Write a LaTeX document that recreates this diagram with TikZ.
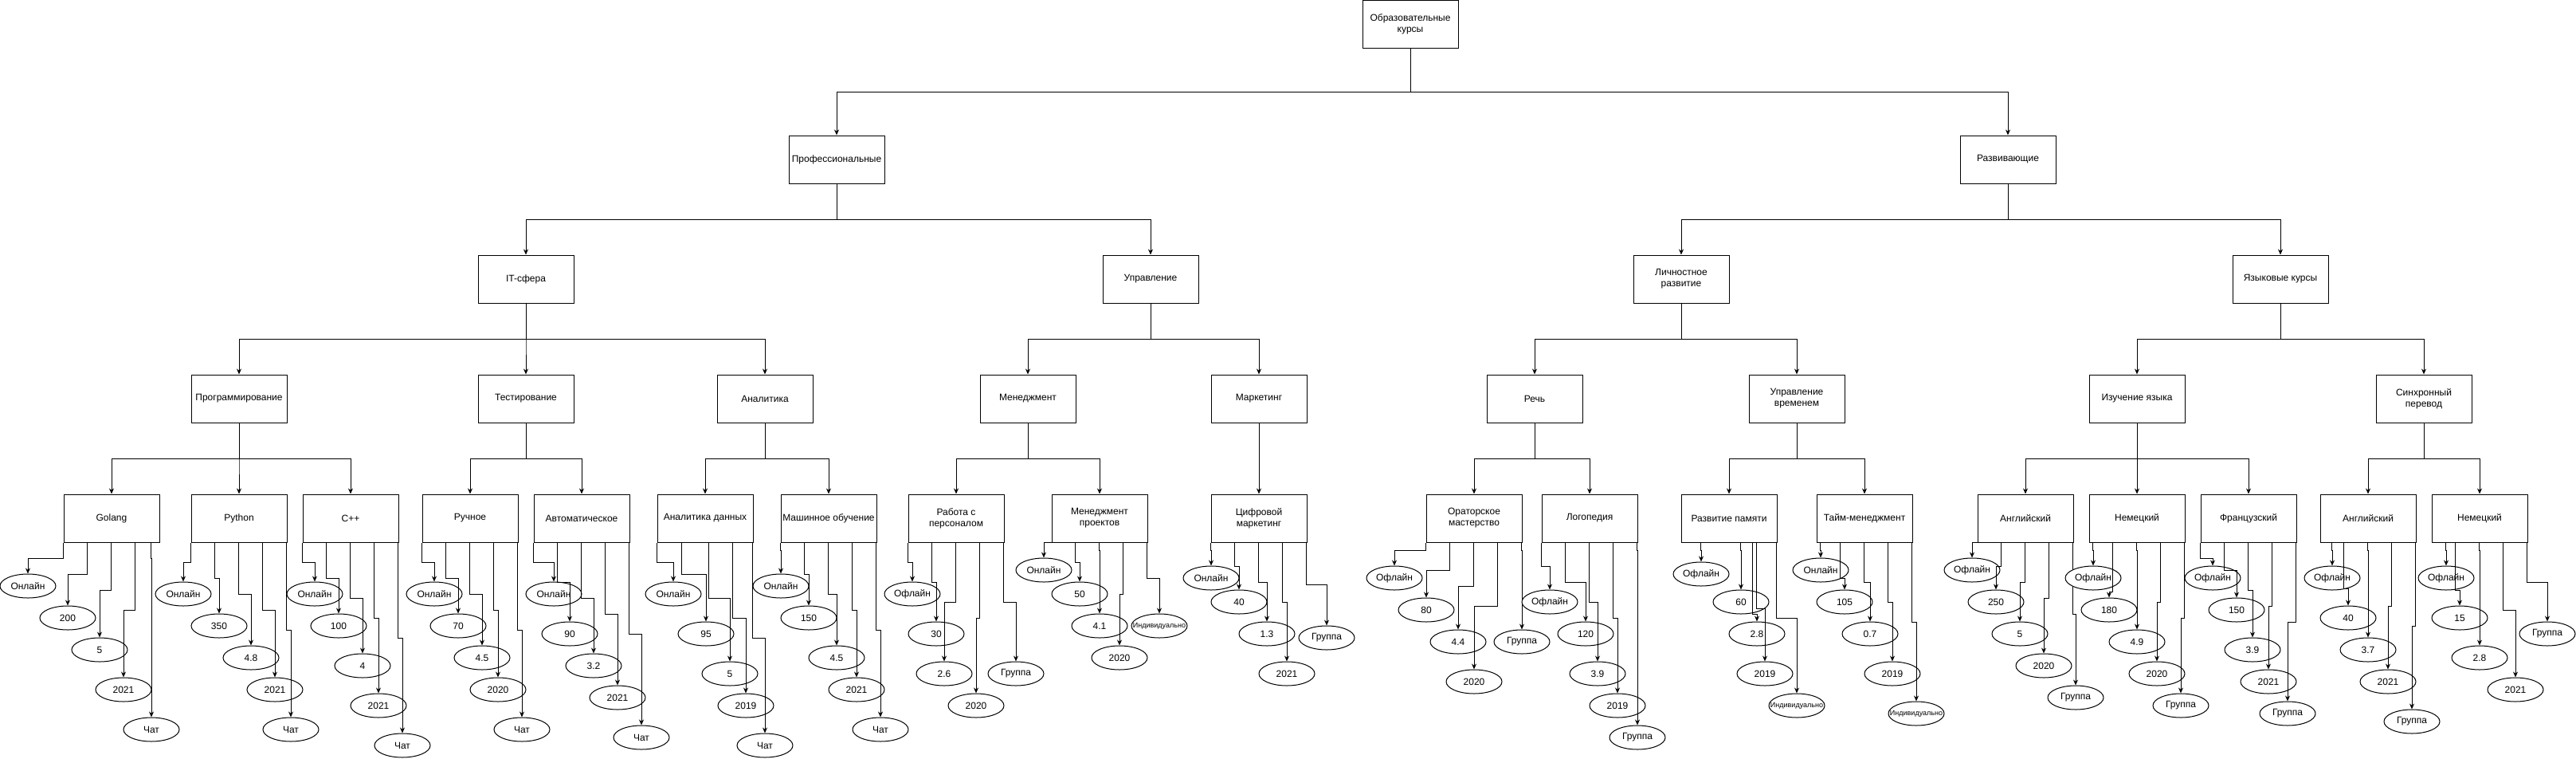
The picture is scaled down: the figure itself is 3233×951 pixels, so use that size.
\documentclass[tikz,border=0pt]{standalone}
\usepackage{fontspec}
\setmainfont{Liberation Sans}
\usetikzlibrary{arrows.meta, shapes.geometric}
\newcommand{\indiv}{\makebox[0pt]{\fontsize{9}{10}\selectfont Индивидуально}}

\begin{document}
\begin{tikzpicture}[x=1pt, y=-1pt,
    box/.style={draw, line width=1pt, fill=white, minimum width=120, minimum height=60, inner sep=0pt, align=center, font=\fontsize{12}{14}\selectfont},
    leaf/.style={draw, ellipse, line width=1pt, fill=white, minimum width=70, minimum height=30, inner sep=0pt, font=\fontsize{12}{14}\selectfont},
    arr/.style={line width=1pt, -{Stealth[length=7pt, width=6pt]}}]
  \useasboundingbox (0,0) rectangle (3233,951);
  % Upper levels of the tree
  \node[box] (root) at (1770,30) {Образовательные\\курсы};
  \node[box] (prof) at (1050,200) {Профессиональные};
  \node[box] (dev) at (2520,200) {Развивающие};
  \foreach \nm/\x/\txt in {it/660/IT-сфера, mgr/1444/Управление, pers/2110/{Личностное\\развитие}, langs/2862/Языковые курсы} {
    \node[box] (\nm) at (\x,350) {\txt};
  }
  \foreach \nm/\x/\txt in {prog/300/Программирование, test/660/Тестирование, anal/960/Аналитика, mgmt/1290/Менеджмент, mkt/1580/Маркетинг, speech/1926/Речь, timectl/2255/{Управление\\временем}, lang/2682/Изучение языка, sync/3042/{Синхронный\\перевод}} {
    \node[box] (\nm) at (\x,500) {\txt};
  }
  % Courses
  \foreach \nm/\x/\txt in {golang/140/Golang, python/300/Python, cpp/440/C++, manual/590/Ручное, auto/730/Автоматическое, dataan/885/Аналитика данных, ml/1040/Машинное обучение, hr/1200/{Работа с\\персоналом}, pm/1380/{Менеджмент\\проектов}, digital/1580/{Цифровой\\маркетинг}, oratory/1850/{Ораторское\\мастерство}, logop/1995/Логопедия, memory/2170/Развитие памяти, timemgmt/2340/Тайм-менеджмент, eng/2542/Английский, ger/2682/Немецкий, fra/2822/Французский, eng2/2972/Английский, ger2/3112/Немецкий} {
    \node[box] (\nm) at (\x,650) {\txt};
  }
  % Tree connectors
  \foreach \a/\b/\d in {root/prof/55, root/dev/55, prof/it/45, prof/mgr/45, dev/pers/45, dev/langs/45,
      it/prog/45, it/test/45, it/anal/45, mgr/mgmt/45, mgr/mkt/45, pers/speech/45, pers/timectl/45, langs/lang/45, langs/sync/45,
      prog/golang/45, prog/python/45, prog/cpp/45, test/manual/45, test/auto/45, anal/dataan/45, anal/ml/45,
      mgmt/hr/45, mgmt/pm/45, mkt/digital/45, speech/oratory/45, speech/logop/45, timectl/memory/45, timectl/timemgmt/45,
      lang/eng/45, lang/ger/45, lang/fra/45, sync/eng2/45, sync/ger2/45} {
    \draw[arr] (\a.south) -- ++(0,\d) -| (\b.north);
  }
  % Course attributes: format, price, rating, year, support
  \foreach \up/\nm/\txt/\cx/\cy/\dx/\dy in {
      golang/go1/Онлайн/35/735/0/20, golang/go2/200/85/775/30/40, golang/go3/5/125/815/60/60, golang/go4/2021/155/865/90/85, golang/go5/Чат/190/915/110/20,
      python/py1/Онлайн/230/745/0/25, python/py2/350/275/785/30/45, python/py3/4.8/315/825/60/65, python/py4/2021/345/865/90/85, python/py5/Чат/365/915/120/110,
      cpp/cp1/Онлайн/395/745/0/25, cpp/cp2/100/425/785/30/45, cpp/cp3/4/455/835/60/70, cpp/cp4/2021/475/885/90/95, cpp/cp5/Чат/505/935/120/120,
      manual/mn1/Онлайн/545/745/0/25, manual/mn2/70/575/785/30/45, manual/mn3/4.5/605/825/60/65, manual/mn4/2020/625/865/90/85, manual/mn5/Чат/655/915/120/110,
      auto/au1/Онлайн/695/745/0/25, auto/au2/90/715/795/30/50, auto/au3/3.2/745/835/60/70, auto/au4/2021/775/875/90/90, auto/au5/Чат/805/925/120/115,
      dataan/da1/Онлайн/845/745/0/25, dataan/da2/95/886/795/31/40, dataan/da3/5/916/845/65/70, dataan/da4/2019/936/885/95/95, dataan/da5/Чат/960/935/120/120,
      ml/ml1/Онлайн/980/735/0/10, ml/ml2/150/1015/775/30/40, ml/ml3/4.5/1050/825/60/65, ml/ml4/2021/1075/865/90/85, ml/ml5/Чат/1105/915/120/110,
      hr/hr1/Офлайн/1145/745/0/25, hr/hr2/30/1175/795/30/50, hr/hr3/2.6/1185/845/60/75, hr/hr4/2020/1225/885/90/95, hr/hr5/Группа/1275/845/120/75,
      pm/pm1/Онлайн/1310/715/0/0, pm/pm2/50/1355/745/30/25, pm/pm3/4.1/1380/785/60/10, pm/pm4/2020/1405/825/90/65, pm/pm5/\indiv/1455/785/120/45,
      digital/dg1/Онлайн/1520/725/0/10, digital/dg2/40/1555/755/30/30, digital/dg3/1.3/1590/795/60/50, digital/dg4/2021/1615/845/90/75, digital/dg5/Группа/1665/800/120/53,
      oratory/or1/Офлайн/1750/725/0/10, oratory/or2/80/1790/765/30/35, oratory/or3/4.4/1830/805/60/55, oratory/or4/2020/1850/855/90/80, oratory/or5/Группа/1910/805/120/10,
      logop/lg1/Офлайн/1945/755/0/30, logop/lg2/120/1990/795/30/50, logop/lg3/3.9/2005/845/60/75, logop/lg4/2019/2030/885/90/95, logop/lg5/Группа/2055/925/120/10,
      memory/me1/Офлайн/2135/720/25/10, memory/me2/60/2185/755/75/10, memory/me3/2.8/2205/795/90/90, memory/me4/2019/2215/845/95/83, memory/me5/\indiv/2255/885/120/95,
      timemgmt/tm1/Онлайн/2285/715/5/10, timemgmt/tm2/105/2315/755/30/45, timemgmt/tm3/0.7/2347/795/60/50, timemgmt/tm4/2019/2375/845/90/75, timemgmt/tm5/\indiv/2405/895/120/100,
      eng/en1/Офлайн/2475/715/0/0, eng/en2/250/2505/755/30/30, eng/en3/5/2535/795/60/50, eng/en4/2020/2565/835/90/70, eng/en5/Группа/2605/875/120/90,
      ger/ge1/Офлайн/2627/725/5/10, ger/ge2/180/2647/765/30/62, ger/ge3/4.9/2682/805/60/10, ger/ge4/2020/2707/845/90/75, ger/ge5/Группа/2737/885/120/95,
      fra/fr1/Офлайн/2777/725/0/20, fra/fr2/150/2807/765/30/35, fra/fr3/3.9/2827/815/60/60, fra/fr4/2021/2847/855/90/80, fra/fr5/Группа/2871/895/120/100,
      eng2/ea1/Офлайн/2927/725/15/10, eng2/ea2/40/2947/775/30/58, eng2/ea3/3.7/2972/815/60/10, eng2/ea4/2021/2997/855/90/80, eng2/ea5/Группа/3027/905/120/105,
      ger2/gb1/Офлайн/3070/725/18/10, ger2/gb2/15/3087/775/30/60, ger2/gb3/2.8/3112/825/60/10, ger2/gb4/2021/3157/865/90/85, ger2/gb5/Группа/3197/795/120/50} {
    \node[leaf] (\nm) at (\cx,\cy) {\txt};
    \draw[arr] ([xshift=\dx]\up.south west) -- ++(0,\dy) -| (\nm.north);
  }
\end{tikzpicture}
\end{document}
